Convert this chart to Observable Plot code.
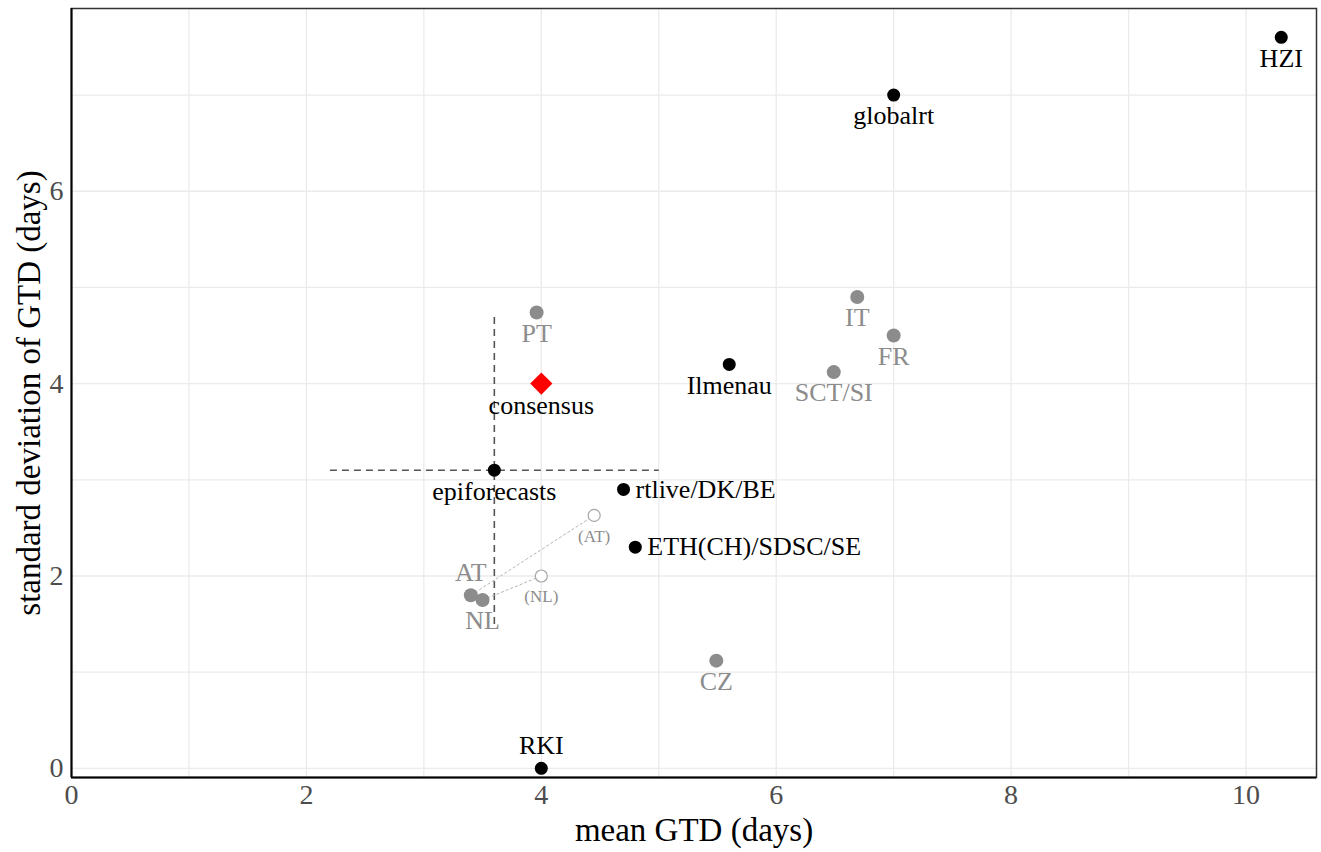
<!DOCTYPE html>
<html>
<head>
<meta charset="utf-8">
<script src="https://cdn.jsdelivr.net/npm/d3@7"></script>
<script src="https://cdn.jsdelivr.net/npm/@observablehq/plot@0.6"></script>
<style>
  html, body { margin: 0; padding: 0; background: #fff; }
  #chart { width: 1321px; height: 852px; }
</style>
</head>
<body>
<div id="chart"></div>
<script>
// ---- data ----
const models = ["HZI", "globalrt", "Ilmenau", "epiforecasts", "rtlive/DK/BE", "ETH(CH)/SDSC/SE", "RKI"];
const modelMean = [10.3, 7.0, 5.6, 3.6, 4.7, 4.8, 4.0];
const modelSd = [7.6, 7.0, 4.2, 3.1, 2.9, 2.3, 0.0];
const modelLabelSide = ["below", "below", "below", "below", "right", "right", "above"];

const countries = ["PT", "IT", "FR", "SCT/SI", "AT", "NL", "CZ"];
const countryMean = [3.96, 6.69, 7.0, 6.49, 3.4, 3.5, 5.49];
const countrySd = [4.74, 4.9, 4.5, 4.12, 1.8, 1.75, 1.12];
const countryLabelSide = ["below", "below", "below", "below", "above", "below", "below"];

const adjusted = ["(AT)", "(NL)"];
const adjustedFrom = ["AT", "NL"];
const adjustedMean = [4.45, 4.0];
const adjustedSd = [2.63, 2.0];

const consensusName = ["consensus"];
const consensusMean = [4.0];
const consensusSd = [4.0];

const epiMeanInterval = [2.2, 5.0];
const epiSdInterval = [1.5, 4.7];

const xTicks = [0, 2, 4, 6, 8, 10];
const yTicks = [0, 2, 4, 6];
const xGrid = [0, 1, 2, 3, 4, 5, 6, 7, 8, 9, 10];
const yGrid = [0, 1, 2, 3, 4, 5, 6, 7];

// ---- tables built from the arrays ----
const modelRows = models.map((name, i) => ({name, mean: modelMean[i], sd: modelSd[i], side: modelLabelSide[i]}));
const countryRows = countries.map((name, i) => ({name, mean: countryMean[i], sd: countrySd[i], side: countryLabelSide[i]}));
const adjustedRows = adjusted.map((name, i) => {
  const j = countries.indexOf(adjustedFrom[i]);
  return {name, mean: adjustedMean[i], sd: adjustedSd[i], fromMean: countryMean[j], fromSd: countrySd[j]};
});
const consensusRows = consensusName.map((name, i) => ({name, mean: consensusMean[i], sd: consensusSd[i]}));
const epi = modelRows.find(d => d.name === "epiforecasts");

const FONT = "Liberation Serif, Times New Roman, serif";
const GRAY = "#8c8c8c";
const LABEL_SIZE = 26;

function labelMarks(rows, fill, fontSize) {
  const below = rows.filter(d => d.side === "below");
  const above = rows.filter(d => d.side === "above");
  const right = rows.filter(d => d.side === "right");
  return [
    Plot.text(below, {x: "mean", y: "sd", text: "name", dy: 21, fill, fontSize}),
    Plot.text(above, {x: "mean", y: "sd", text: "name", dy: -23, fill, fontSize}),
    Plot.text(right, {x: "mean", y: "sd", text: "name", dx: 12, textAnchor: "start", fill, fontSize})
  ];
}

const chart = Plot.plot({
  width: 1321,
  height: 852,
  marginLeft: 71,
  marginRight: 5,
  marginTop: 8,
  marginBottom: 75,
  style: {fontFamily: FONT, fontSize: "26px", background: "#fff"},
  x: {domain: [0, 10.6], label: null},
  y: {domain: [-0.095, 7.9], label: null},
  marks: [
    Plot.gridX(xGrid, {stroke: "#ebebeb", strokeOpacity: 1, strokeWidth: 1.3}),
    Plot.gridY(yGrid, {stroke: "#ebebeb", strokeOpacity: 1, strokeWidth: 1.3}),
    // epiforecasts intervals
    Plot.link([epi], {x1: () => epiMeanInterval[0], x2: () => epiMeanInterval[1], y1: "sd", y2: "sd",
      stroke: "#555", strokeWidth: 1.6, strokeDasharray: "7,5"}),
    Plot.link([epi], {x1: "mean", x2: "mean", y1: () => epiSdInterval[0], y2: () => epiSdInterval[1],
      stroke: "#555", strokeWidth: 1.6, strokeDasharray: "7,5"}),
    // connectors to adjusted estimates
    Plot.link(adjustedRows, {x1: "fromMean", y1: "fromSd", x2: "mean", y2: "sd",
      stroke: "#b5b5b5", strokeWidth: 1, strokeDasharray: "3,2"}),
    Plot.dot(adjustedRows, {x: "mean", y: "sd", r: 6, stroke: "#a6a6a6", strokeWidth: 1.2, fill: "#fff"}),
    Plot.text(adjustedRows, {x: "mean", y: "sd", text: "name", dy: 21, fill: "#8c8c8c", fontSize: 17}),
    // countries
    Plot.dot(countryRows, {x: "mean", y: "sd", r: 7, fill: GRAY}),
    ...labelMarks(countryRows, GRAY, LABEL_SIZE),
    // models
    Plot.dot(modelRows, {x: "mean", y: "sd", r: 6.5, fill: "#000"}),
    ...labelMarks(modelRows, "#000", LABEL_SIZE),
    // consensus
    Plot.dot(consensusRows, {x: "mean", y: "sd", r: 10, symbol: "diamond2", fill: "#ff0000"}),
    Plot.text(consensusRows, {x: "mean", y: "sd", text: "name", dy: 22, fill: "#000", fontSize: LABEL_SIZE}),
    // frame and axes
    Plot.frame({stroke: "#333", strokeWidth: 1.5}),
    Plot.ruleY([-0.095], {stroke: "#000", strokeWidth: 2}),
    Plot.ruleX([0], {stroke: "#000", strokeWidth: 2}),
    Plot.axisX(xTicks, {tickSize: 0, tickPadding: 7, tickFormat: "d", fill: "#4d4d4d", fontSize: 28, label: null}),
    Plot.axisY(yTicks, {tickSize: 0, tickPadding: 8, tickFormat: "d", fill: "#4d4d4d", fontSize: 28, label: null}),
    Plot.text(["mean GTD (days)"], {frameAnchor: "bottom", lineAnchor: "middle", dy: 53, fontSize: 33, fill: "#000"}),
    Plot.text(["standard deviation of GTD (days)"], {frameAnchor: "left", textAnchor: "middle", lineAnchor: "middle",
      dx: -42, rotate: -90, fontSize: 33, fill: "#000"})
  ]
});
document.getElementById("chart").appendChild(chart);
</script>
</body>
</html>
